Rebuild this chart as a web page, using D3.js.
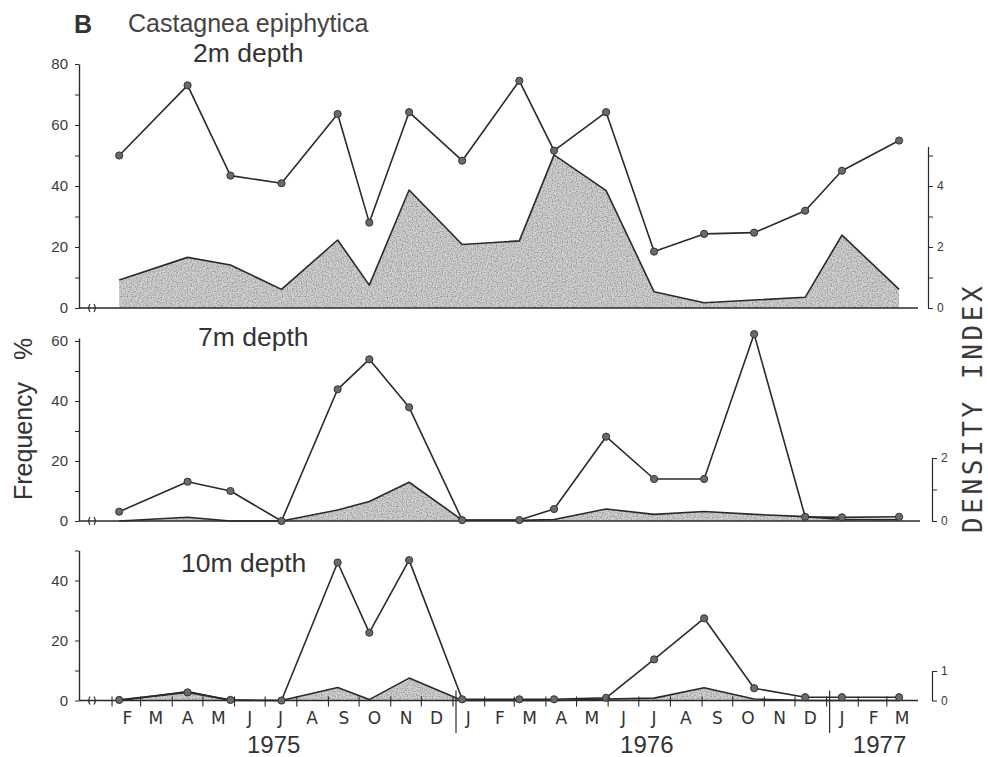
<!DOCTYPE html>
<html>
<head>
<meta charset="utf-8">
<script src="https://cdn.jsdelivr.net/npm/d3@7"></script>
<style>
  body { margin: 0; background: #fff; }
  svg { display: block; }
</style>
</head>
<body>
<svg id="chart" width="988" height="757"></svg>
<script>
// Sampling dates (same for all three depths)
const sampleDates = ["1975-02-08","1975-04-16","1975-05-28","1975-07-17","1975-09-10","1975-10-11",
  "1975-11-19","1976-01-10","1976-03-06","1976-04-09","1976-05-30","1976-07-16","1976-09-03",
  "1976-10-22","1976-12-11","1977-01-16","1977-03-13"];

// Frequency (%) and density index at each depth
const freq2m  = [50, 73, 43.4, 40.9, 63.6, 28, 64.2, 48.3, 74.5, 51.6, 64.2, 18.5, 24.3, 24.7, 31.9, 45, 54.9];
const dens2m  = [0.92, 1.66, 1.41, 0.61, 2.23, 0.75, 3.87, 2.08, 2.2, 5.02, 3.85, 0.53, 0.17, 0.26, 0.35, 2.39, 0.61];
const freq7m  = [3.1, 13.1, 10, 0, 43.9, 53.9, 37.9, 0.3, 0.3, 4, 28.1, 14, 14, 62.3, 1.4, 1.2, 1.4];
const dens7m  = [0, 0.12, 0, 0, 0.35, 0.62, 1.23, 0.03, 0.02, 0.05, 0.38, 0.21, 0.3, 0.21, 0.14, 0.05, 0.05];
const freq10m = [0.2, 2.7, 0.2, 0, 46, 22.6, 46.8, 0.4, 0.4, 0.4, 0.9, 13.7, 27.4, 4.1, 1.1, 1.1, 1.1];
const dens10m = [0, 0.3, 0, 0, 0.44, 0.03, 0.76, 0, 0, 0, 0.05, 0.08, 0.43, 0.05, 0, 0, 0];

// Axis labels
const monthLetters = ["J","F","M","A","M","J","J","A","S","O","N","D"];
const yearLabels = ["1975", "1976", "1977"];
const depthLabels = ["2m depth", "7m depth", "10m depth"];

const parse = d3.timeParse("%Y-%m-%d");
const dates = sampleDates.map(parse);

const svg = d3.select("#chart");
const FONT = "'Liberation Sans', Arial, sans-serif";
const INK = "#2a2a2a";

// grainy stipple used inside the density areas
const defs = svg.append("defs");
const f = defs.append("filter").attr("id", "stipple")
  .attr("x", 0).attr("y", 0).attr("width", 1).attr("height", 1);
f.append("feTurbulence").attr("type", "fractalNoise").attr("baseFrequency", 0.8)
  .attr("numOctaves", 1).attr("seed", 4).attr("result", "noise");
f.append("feColorMatrix").attr("in", "noise").attr("type", "matrix")
  .attr("values", "0 0 0 0 0.3  0 0 0 0 0.3  0 0 0 0 0.3  2.8 0 0 0 -1.15")
  .attr("result", "specks");
f.append("feComposite").attr("in", "specks").attr("in2", "SourceAlpha").attr("operator", "in");

// shared time axis
const x = d3.scaleTime()
  .domain([new Date(1975, 0, 1), new Date(1977, 3, 1)])
  .range([80.4, 918.5]);

const axisX = 79;

const panels = [
  { label: depthLabels[0], freq: freq2m, dens: dens2m, base: 308, fPx: 3.05, fmax: 80, fTop: 80,
    dmax: 5, dPx: 30.5, dTicks: [0,1,2,3,4,5], dLabels: [0,2,4], dTop: 5.3, rx: 928,
    lab: [193, 62], end: 918 },
  { label: depthLabels[1], freq: freq7m, dens: dens7m, base: 521, fPx: 3.0, fmax: 60, fTop: 61,
    dmax: 2, dPx: 31.5, dTicks: [0,1,2], dLabels: [0,2], dTop: 2, rx: 932,
    lab: [198, 346], end: 920 },
  { label: depthLabels[2], freq: freq10m, dens: dens10m, base: 700.5, fPx: 3.0, fmax: 50, fTop: 50,
    dmax: 1, dPx: 29.5, dTicks: [0,1], dLabels: [0,1], dTop: 1, rx: 932,
    lab: [181, 572], end: 918 }
];

panels.forEach((p, i) => {
  const g = svg.append("g");
  const y = d3.scaleLinear().domain([0, 80]).range([p.base, p.base - 80 * p.fPx]);
  const yd = d3.scaleLinear().domain([0, p.dmax]).range([p.base, p.base - p.dmax * p.dPx]);

  const pts = dates.map((d, k) => ({ date: d, f: p.freq[k], v: p.dens[k] }));

  // density area (stippled grey with dark upper edge)
  const area = d3.area().x(d => x(d.date)).y0(p.base).y1(d => yd(d.v));
  g.append("path").datum(pts).attr("d", area).attr("fill", "#d2d2d2");
  g.append("path").datum(pts).attr("d", area).attr("fill", "#000").attr("filter", "url(#stipple)");
  g.append("path").datum(pts)
    .attr("d", d3.line().x(d => x(d.date)).y(d => yd(d.v)))
    .attr("fill", "none").attr("stroke", INK).attr("stroke-width", 1.6)
    .attr("stroke-linejoin", "round");

  // baseline (time axis)
  g.append("line").attr("x1", axisX).attr("x2", p.end)
    .attr("y1", p.base).attr("y2", p.base)
    .attr("stroke", INK).attr("stroke-width", 1.4);
  // axis break marks
  g.append("path")
    .attr("d", `M90,${p.base - 4} Q87.5,${p.base} 90,${p.base + 4} M94,${p.base - 4} Q96.5,${p.base} 94,${p.base + 4}`)
    .attr("fill", "none").attr("stroke", INK).attr("stroke-width", 1.2);

  // left frequency axis
  const yl = d3.scaleLinear().domain([0, p.fTop]).range([y(0), y(p.fTop)]);
  const la = g.append("g").attr("transform", `translate(${axisX},0)`)
    .call(d3.axisLeft(yl).tickValues(d3.range(0, p.fmax + 1, 10)).tickSize(4).tickSizeOuter(0)
      .tickPadding(7).tickFormat(d => d % 20 === 0 ? d : ""));
  la.select(".domain").attr("stroke", INK).attr("stroke-width", 1.4);
  la.selectAll(".tick line").attr("stroke", INK);
  la.selectAll(".tick text").attr("font-family", FONT).attr("font-size", 15).attr("fill", "#3a3a3a");

  // right density axis
  const yr = d3.scaleLinear().domain([0, p.dTop]).range([yd(0), yd(p.dTop)]);
  const ra = g.append("g").attr("transform", `translate(${p.rx},0)`)
    .call(d3.axisRight(yr).tickValues(p.dTicks).tickSize(5).tickSizeOuter(0).tickPadding(4)
      .tickFormat(d => p.dLabels.includes(d) ? d : ""));
  ra.select(".domain").attr("stroke", INK).attr("stroke-width", 1.2);
  ra.selectAll(".tick line").attr("stroke", INK);
  ra.selectAll(".tick text").attr("font-family", FONT).attr("font-size", 12).attr("fill", "#3a3a3a");

  // frequency line with markers
  g.append("path").datum(pts)
    .attr("d", d3.line().x(d => x(d.date)).y(d => y(d.f)))
    .attr("fill", "none").attr("stroke", INK).attr("stroke-width", 1.6)
    .attr("stroke-linejoin", "round");
  g.selectAll("circle").data(pts).join("circle")
    .attr("cx", d => x(d.date)).attr("cy", d => y(d.f)).attr("r", 3.6)
    .attr("fill", "#6a6a6a").attr("stroke", "#333").attr("stroke-width", 1);

  // depth label
  g.append("text").attr("x", p.lab[0]).attr("y", p.lab[1])
    .attr("font-family", FONT).attr("font-size", 26.5).attr("fill", "#333")
    .text(p.label);

  // month ticks, month letters and year dividers on the bottom panel
  if (i === panels.length - 1) {
    const months = d3.timeMonth.range(new Date(1975, 1, 1), new Date(1977, 3, 1));
    g.selectAll(".mt").data(months).join("line").attr("class", "mt")
      .attr("x1", d => x(d)).attr("x2", d => x(d))
      .attr("y1", p.base - 4).attr("y2", p.base + 6)
      .attr("stroke", INK).attr("stroke-width", 1.1);
    g.selectAll(".ml").data(months).join("text").attr("class", "ml")
      .attr("x", d => x(d3.timeDay.offset(d, 15)))
      .attr("y", 724)
      .attr("text-anchor", "middle")
      .attr("font-family", "'DejaVu Sans', sans-serif").attr("font-size", 17).attr("fill", "#333")
      .text(d => monthLetters[d.getMonth()]);
    const jans = [new Date(1976, 0, 1), new Date(1977, 0, 1)];
    g.selectAll(".yd").data(jans).join("line").attr("class", "yd")
      .attr("x1", d => x(d) + 3).attr("x2", d => x(d) + 3)
      .attr("y1", p.base - 10).attr("y2", 733)
      .attr("stroke", INK).attr("stroke-width", 1.2);
    const yearSpans = [
      [new Date(1975, 0, 1), new Date(1976, 0, 1)],
      [new Date(1976, 0, 1), new Date(1977, 0, 1)],
      [new Date(1977, 0, 1), new Date(1977, 3, 1)]
    ];
    g.selectAll(".yl").data(yearLabels).join("text").attr("class", "yl")
      .attr("x", (d, k) => (x(yearSpans[k][0]) + x(yearSpans[k][1])) / 2 + 7)
      .attr("y", 753)
      .attr("text-anchor", "middle")
      .attr("font-family", FONT).attr("font-size", 24).attr("fill", "#333")
      .text(d => d);
  }
});

// panel letter and species name
svg.append("text").attr("x", 74).attr("y", 33)
  .attr("font-family", FONT).attr("font-weight", "bold").attr("font-size", 25).attr("fill", "#333")
  .text("B");
svg.append("text").attr("x", 128).attr("y", 32)
  .attr("font-family", FONT).attr("font-size", 25).attr("fill", "#444")
  .text("Castagnea epiphytica");

// axis titles
svg.append("text")
  .attr("transform", "translate(32,500) rotate(-90)")
  .attr("font-family", FONT).attr("font-size", 25).attr("fill", "#333")
  .text("Frequency")
  .append("tspan").attr("dx", 22).text("%");

svg.append("text")
  .attr("transform", "translate(982,533) rotate(-90)")
  .attr("font-family", "'DejaVu Sans Mono', monospace").attr("font-size", 26)
  .attr("letter-spacing", 3.6).attr("fill", "#3a3a3a")
  .text("DENSITY INDEX");
</script>
</body>
</html>
